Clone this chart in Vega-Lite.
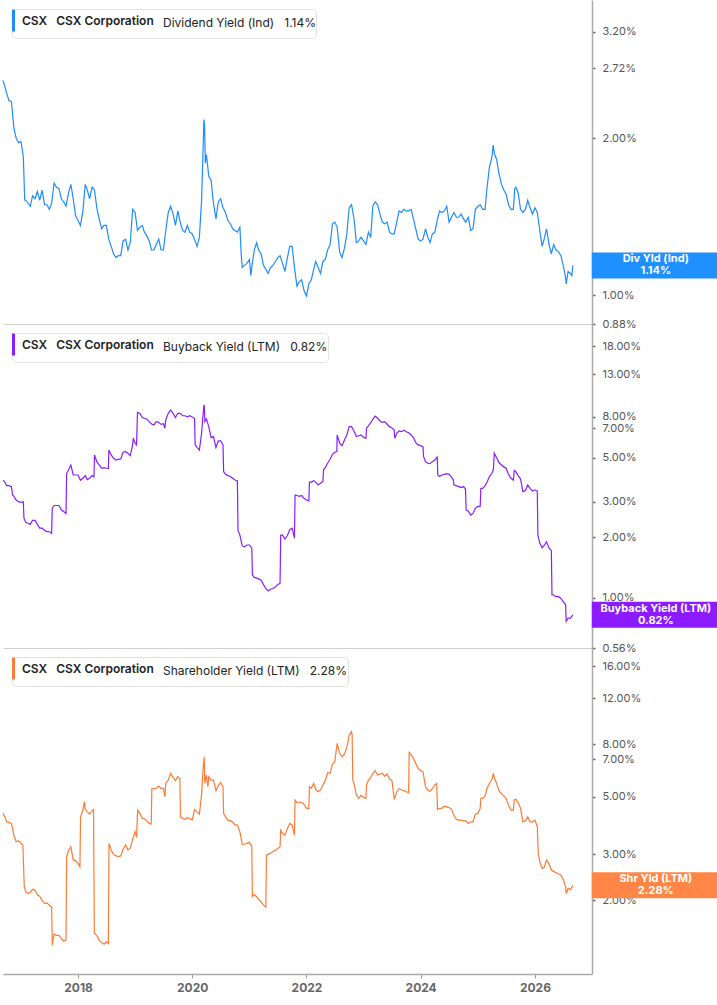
{
  "$schema": "https://vega.github.io/schema/vega-lite/v6.json",
  "padding": 0,
  "autosize": {"type": "pad"},
  "background": "white",
  "config": {
    "font": "Inter",
    "view": {"stroke": null},
    "axis": {"labelFont": "Inter", "grid": false},
    "legend": {
      "orient": "top-left",
      "offset": 9,
      "padding": 0,
      "fillColor": "white",
      "strokeColor": "#e2e2e2",
      "cornerRadius": 4,
      "labelFont": "Inter",
      "labelFontSize": 12,
      "labelFontWeight": 600,
      "labelColor": "#222",
      "labelLimit": 400,
      "titleOrient": "right",
      "titleFont": "Inter",
      "titleFontSize": 12,
      "titleFontWeight": 400,
      "titleColor": "#222",
      "titlePadding": 9,
      "titleLimit": 400,
      "titleBaseline": "middle",
      "titleAnchor": "middle"
    }
  },
  "datasets": {
    "div": [
      {"d":"2016-09-08","v":2.58},{"d":"2016-09-20","v":2.51},{"d":"2016-10-01","v":2.44},{"d":"2016-10-16","v":2.36},
      {"d":"2016-11-01","v":2.35},{"d":"2016-11-16","v":2.10},{"d":"2016-12-01","v":2.00},{"d":"2016-12-16","v":1.96},
      {"d":"2017-01-01","v":1.97},{"d":"2017-01-16","v":1.84},{"d":"2017-01-25","v":1.52},{"d":"2017-02-01","v":1.52},
      {"d":"2017-02-16","v":1.50},{"d":"2017-03-01","v":1.48},{"d":"2017-03-16","v":1.55},{"d":"2017-04-01","v":1.53},
      {"d":"2017-04-16","v":1.58},{"d":"2017-05-01","v":1.52},{"d":"2017-05-16","v":1.59},{"d":"2017-06-01","v":1.49},
      {"d":"2017-06-16","v":1.49},{"d":"2017-07-01","v":1.46},{"d":"2017-07-16","v":1.50},{"d":"2017-08-01","v":1.64},
      {"d":"2017-08-16","v":1.61},{"d":"2017-09-01","v":1.60},{"d":"2017-09-16","v":1.53},{"d":"2017-10-01","v":1.51},
      {"d":"2017-10-16","v":1.48},{"d":"2017-11-01","v":1.57},{"d":"2017-11-16","v":1.63},{"d":"2017-12-01","v":1.53},
      {"d":"2017-12-16","v":1.42},{"d":"2018-01-01","v":1.39},{"d":"2018-01-16","v":1.36},{"d":"2018-02-01","v":1.45},
      {"d":"2018-02-16","v":1.63},{"d":"2018-03-01","v":1.59},{"d":"2018-03-16","v":1.53},{"d":"2018-04-01","v":1.61},
      {"d":"2018-04-16","v":1.59},{"d":"2018-05-01","v":1.47},{"d":"2018-05-16","v":1.40},{"d":"2018-06-01","v":1.34},
      {"d":"2018-06-16","v":1.36},{"d":"2018-07-01","v":1.36},{"d":"2018-07-16","v":1.28},{"d":"2018-08-01","v":1.24},
      {"d":"2018-08-16","v":1.20},{"d":"2018-09-01","v":1.18},{"d":"2018-09-16","v":1.19},{"d":"2018-10-01","v":1.19},
      {"d":"2018-10-16","v":1.27},{"d":"2018-11-01","v":1.28},{"d":"2018-11-16","v":1.22},{"d":"2018-12-01","v":1.26},
      {"d":"2018-12-16","v":1.46},{"d":"2019-01-01","v":1.44},{"d":"2019-01-16","v":1.33},{"d":"2019-02-01","v":1.35},
      {"d":"2019-02-16","v":1.36},{"d":"2019-03-01","v":1.32},{"d":"2019-03-16","v":1.30},{"d":"2019-04-01","v":1.27},
      {"d":"2019-04-16","v":1.22},{"d":"2019-05-01","v":1.22},{"d":"2019-05-16","v":1.25},{"d":"2019-06-01","v":1.28},
      {"d":"2019-06-16","v":1.22},{"d":"2019-07-01","v":1.22},{"d":"2019-07-16","v":1.33},{"d":"2019-08-01","v":1.44},
      {"d":"2019-08-16","v":1.48},{"d":"2019-09-01","v":1.43},{"d":"2019-09-16","v":1.36},{"d":"2019-10-01","v":1.45},
      {"d":"2019-10-16","v":1.38},{"d":"2019-11-01","v":1.33},{"d":"2019-11-16","v":1.32},{"d":"2019-12-01","v":1.36},
      {"d":"2019-12-16","v":1.32},{"d":"2020-01-01","v":1.31},{"d":"2020-01-16","v":1.28},{"d":"2020-02-01","v":1.24},
      {"d":"2020-02-16","v":1.29},{"d":"2020-03-01","v":1.52},{"d":"2020-03-10","v":1.87},{"d":"2020-03-16","v":2.17},
      {"d":"2020-03-20","v":2.13},{"d":"2020-03-25","v":1.79},{"d":"2020-04-01","v":1.86},{"d":"2020-04-16","v":1.69},
      {"d":"2020-05-01","v":1.66},{"d":"2020-05-16","v":1.50},{"d":"2020-06-01","v":1.40},{"d":"2020-06-16","v":1.51},
      {"d":"2020-07-01","v":1.53},{"d":"2020-07-16","v":1.47},{"d":"2020-08-01","v":1.44},{"d":"2020-08-16","v":1.39},
      {"d":"2020-09-01","v":1.37},{"d":"2020-09-16","v":1.34},{"d":"2020-10-01","v":1.33},{"d":"2020-10-16","v":1.32},
      {"d":"2020-11-01","v":1.35},{"d":"2020-11-10","v":1.19},{"d":"2020-11-16","v":1.13},{"d":"2020-12-01","v":1.14},
      {"d":"2020-12-16","v":1.15},{"d":"2021-01-01","v":1.17},{"d":"2021-01-10","v":1.09},{"d":"2021-01-16","v":1.13},
      {"d":"2021-02-01","v":1.22},{"d":"2021-02-16","v":1.26},{"d":"2021-03-01","v":1.22},{"d":"2021-03-16","v":1.20},
      {"d":"2021-04-01","v":1.14},{"d":"2021-04-16","v":1.12},{"d":"2021-05-01","v":1.10},{"d":"2021-05-16","v":1.13},
      {"d":"2021-06-01","v":1.14},{"d":"2021-06-16","v":1.16},{"d":"2021-07-01","v":1.18},{"d":"2021-07-16","v":1.19},
      {"d":"2021-08-01","v":1.15},{"d":"2021-08-16","v":1.11},{"d":"2021-09-01","v":1.18},{"d":"2021-09-16","v":1.24},
      {"d":"2021-10-01","v":1.24},{"d":"2021-10-16","v":1.13},{"d":"2021-11-01","v":1.04},{"d":"2021-11-16","v":1.06},
      {"d":"2021-12-01","v":1.07},{"d":"2021-12-16","v":1.02},{"d":"2022-01-01","v":0.996},{"d":"2022-01-16","v":1.05},
      {"d":"2022-02-01","v":1.07},{"d":"2022-02-16","v":1.12},{"d":"2022-03-01","v":1.16},{"d":"2022-03-16","v":1.13},
      {"d":"2022-04-01","v":1.10},{"d":"2022-04-16","v":1.16},{"d":"2022-05-01","v":1.17},{"d":"2022-05-16","v":1.22},
      {"d":"2022-06-01","v":1.25},{"d":"2022-06-16","v":1.37},{"d":"2022-07-01","v":1.38},{"d":"2022-07-16","v":1.35},
      {"d":"2022-08-01","v":1.21},{"d":"2022-08-16","v":1.18},{"d":"2022-09-01","v":1.23},{"d":"2022-09-16","v":1.31},
      {"d":"2022-10-01","v":1.47},{"d":"2022-10-16","v":1.49},{"d":"2022-11-01","v":1.40},{"d":"2022-11-16","v":1.26},
      {"d":"2022-12-01","v":1.27},{"d":"2022-12-16","v":1.29},{"d":"2023-01-01","v":1.27},{"d":"2023-01-16","v":1.25},
      {"d":"2023-02-01","v":1.32},{"d":"2023-02-16","v":1.29},{"d":"2023-03-01","v":1.48},{"d":"2023-03-16","v":1.51},
      {"d":"2023-04-01","v":1.49},{"d":"2023-04-16","v":1.43},{"d":"2023-05-01","v":1.38},{"d":"2023-05-16","v":1.37},
      {"d":"2023-06-01","v":1.38},{"d":"2023-06-16","v":1.32},{"d":"2023-07-01","v":1.31},{"d":"2023-07-16","v":1.31},
      {"d":"2023-08-01","v":1.38},{"d":"2023-08-16","v":1.45},{"d":"2023-09-01","v":1.44},{"d":"2023-09-16","v":1.46},
      {"d":"2023-10-01","v":1.45},{"d":"2023-10-16","v":1.45},{"d":"2023-11-01","v":1.46},{"d":"2023-11-16","v":1.40},
      {"d":"2023-12-01","v":1.34},{"d":"2023-12-16","v":1.28},{"d":"2024-01-01","v":1.27},{"d":"2024-01-16","v":1.28},
      {"d":"2024-02-01","v":1.34},{"d":"2024-02-16","v":1.29},{"d":"2024-03-01","v":1.26},{"d":"2024-03-16","v":1.31},
      {"d":"2024-04-01","v":1.32},{"d":"2024-04-16","v":1.39},{"d":"2024-05-01","v":1.45},{"d":"2024-05-16","v":1.44},
      {"d":"2024-06-01","v":1.45},{"d":"2024-06-16","v":1.48},{"d":"2024-07-01","v":1.38},{"d":"2024-07-16","v":1.41},
      {"d":"2024-08-01","v":1.44},{"d":"2024-08-16","v":1.41},{"d":"2024-09-01","v":1.41},{"d":"2024-09-16","v":1.43},
      {"d":"2024-10-01","v":1.40},{"d":"2024-10-16","v":1.38},{"d":"2024-11-01","v":1.41},{"d":"2024-11-16","v":1.33},
      {"d":"2024-12-01","v":1.34},{"d":"2024-12-16","v":1.46},{"d":"2025-01-01","v":1.48},{"d":"2025-01-16","v":1.49},
      {"d":"2025-02-01","v":1.46},{"d":"2025-02-16","v":1.46},{"d":"2025-03-01","v":1.61},{"d":"2025-03-16","v":1.76},
      {"d":"2025-04-01","v":1.84},{"d":"2025-04-09","v":1.94},{"d":"2025-04-16","v":1.87},{"d":"2025-05-01","v":1.82},
      {"d":"2025-05-16","v":1.71},{"d":"2025-06-01","v":1.63},{"d":"2025-06-16","v":1.59},{"d":"2025-07-01","v":1.56},
      {"d":"2025-07-16","v":1.49},{"d":"2025-08-01","v":1.46},{"d":"2025-08-16","v":1.46},{"d":"2025-08-25","v":1.60},
      {"d":"2025-09-01","v":1.61},{"d":"2025-09-16","v":1.57},{"d":"2025-10-01","v":1.46},{"d":"2025-10-16","v":1.44},
      {"d":"2025-11-01","v":1.46},{"d":"2025-11-16","v":1.52},{"d":"2025-12-01","v":1.47},{"d":"2025-12-16","v":1.43},
      {"d":"2026-01-01","v":1.47},{"d":"2026-01-16","v":1.44},{"d":"2026-02-01","v":1.33},{"d":"2026-02-16","v":1.24},
      {"d":"2026-03-01","v":1.28},{"d":"2026-03-16","v":1.34},{"d":"2026-04-01","v":1.25},{"d":"2026-04-16","v":1.20},
      {"d":"2026-05-01","v":1.25},{"d":"2026-05-16","v":1.22},{"d":"2026-06-01","v":1.21},{"d":"2026-06-16","v":1.19},
      {"d":"2026-07-01","v":1.14},{"d":"2026-07-16","v":1.08},{"d":"2026-07-20","v":1.05},{"d":"2026-08-01","v":1.11},
      {"d":"2026-08-16","v":1.10},{"d":"2026-08-25","v":1.09},{"d":"2026-09-01","v":1.14}
    ],
    "buy": [
      {"d":"2016-09-08","v":3.86},{"d":"2016-09-20","v":3.77},{"d":"2016-10-01","v":3.62},{"d":"2016-10-16","v":3.62},
      {"d":"2016-11-01","v":3.58},{"d":"2016-11-08","v":3.25},{"d":"2016-11-16","v":3.21},{"d":"2016-12-01","v":3.07},
      {"d":"2016-12-16","v":3.01},{"d":"2017-01-01","v":2.99},{"d":"2017-01-16","v":3.01},{"d":"2017-01-20","v":2.49},
      {"d":"2017-02-01","v":2.37},{"d":"2017-02-16","v":2.35},{"d":"2017-03-01","v":2.32},{"d":"2017-03-16","v":2.43},
      {"d":"2017-04-01","v":2.43},{"d":"2017-04-16","v":2.32},{"d":"2017-05-01","v":2.22},{"d":"2017-05-16","v":2.22},
      {"d":"2017-06-01","v":2.16},{"d":"2017-06-16","v":2.14},{"d":"2017-07-01","v":2.13},{"d":"2017-07-16","v":2.09},
      {"d":"2017-07-20","v":2.79},{"d":"2017-08-01","v":2.88},{"d":"2017-08-16","v":2.88},{"d":"2017-09-01","v":2.88},
      {"d":"2017-09-16","v":2.74},{"d":"2017-10-01","v":2.69},{"d":"2017-10-16","v":2.63},{"d":"2017-10-20","v":4.17},
      {"d":"2017-11-01","v":4.33},{"d":"2017-11-16","v":4.59},{"d":"2017-12-01","v":4.09},{"d":"2017-12-16","v":4.09},
      {"d":"2018-01-01","v":4.09},{"d":"2018-01-16","v":3.85},{"d":"2018-02-01","v":3.94},{"d":"2018-02-16","v":4.06},
      {"d":"2018-03-01","v":3.88},{"d":"2018-03-16","v":3.94},{"d":"2018-04-01","v":4.06},{"d":"2018-04-13","v":4.00},
      {"d":"2018-04-16","v":5.15},{"d":"2018-05-01","v":4.77},{"d":"2018-05-16","v":4.59},{"d":"2018-06-01","v":4.42},
      {"d":"2018-06-16","v":4.45},{"d":"2018-07-01","v":4.42},{"d":"2018-07-14","v":4.40},{"d":"2018-07-17","v":5.45},
      {"d":"2018-08-01","v":5.15},{"d":"2018-08-16","v":4.96},{"d":"2018-09-01","v":4.86},{"d":"2018-09-16","v":4.90},
      {"d":"2018-10-01","v":4.92},{"d":"2018-10-16","v":5.31},{"d":"2018-11-01","v":5.35},{"d":"2018-11-16","v":5.25},
      {"d":"2018-12-01","v":5.11},{"d":"2018-12-16","v":5.78},{"d":"2018-12-20","v":6.24},{"d":"2019-01-01","v":5.89},
      {"d":"2019-01-10","v":5.78},{"d":"2019-01-16","v":8.40},{"d":"2019-02-01","v":8.30},{"d":"2019-02-16","v":7.91},
      {"d":"2019-03-01","v":7.85},{"d":"2019-03-16","v":7.79},{"d":"2019-04-01","v":7.55},{"d":"2019-04-16","v":7.35},
      {"d":"2019-05-01","v":7.27},{"d":"2019-05-16","v":7.55},{"d":"2019-06-01","v":7.49},{"d":"2019-06-16","v":7.32},
      {"d":"2019-07-01","v":7.38},{"d":"2019-07-10","v":7.00},{"d":"2019-07-16","v":7.70},{"d":"2019-08-01","v":8.31},
      {"d":"2019-08-16","v":8.64},{"d":"2019-09-01","v":8.30},{"d":"2019-09-16","v":7.91},{"d":"2019-10-01","v":8.31},
      {"d":"2019-10-16","v":8.30},{"d":"2019-11-01","v":8.08},{"d":"2019-11-16","v":8.08},{"d":"2019-12-01","v":7.99},
      {"d":"2019-12-16","v":8.08},{"d":"2020-01-01","v":7.97},{"d":"2020-01-16","v":7.85},{"d":"2020-01-20","v":5.78},
      {"d":"2020-02-01","v":5.62},{"d":"2020-02-16","v":5.45},{"d":"2020-03-01","v":6.61},{"d":"2020-03-10","v":8.15},
      {"d":"2020-03-16","v":9.08},{"d":"2020-03-18","v":9.15},{"d":"2020-03-22","v":7.55},{"d":"2020-04-01","v":7.79},
      {"d":"2020-04-16","v":7.13},{"d":"2020-05-01","v":6.29},{"d":"2020-05-16","v":6.36},{"d":"2020-06-01","v":5.60},
      {"d":"2020-06-16","v":6.05},{"d":"2020-07-01","v":6.05},{"d":"2020-07-16","v":5.78},{"d":"2020-07-20","v":4.25},
      {"d":"2020-08-01","v":4.12},{"d":"2020-08-16","v":4.06},{"d":"2020-09-01","v":4.02},{"d":"2020-09-16","v":3.94},
      {"d":"2020-10-01","v":3.86},{"d":"2020-10-16","v":3.82},{"d":"2020-10-20","v":2.17},{"d":"2020-11-01","v":2.05},
      {"d":"2020-11-16","v":1.81},{"d":"2020-12-01","v":1.79},{"d":"2020-12-16","v":1.83},{"d":"2021-01-01","v":1.83},
      {"d":"2021-01-16","v":1.77},{"d":"2021-01-20","v":1.30},{"d":"2021-02-01","v":1.26},{"d":"2021-02-16","v":1.25},
      {"d":"2021-03-01","v":1.24},{"d":"2021-03-16","v":1.22},{"d":"2021-04-01","v":1.16},{"d":"2021-04-16","v":1.11},
      {"d":"2021-05-01","v":1.08},{"d":"2021-05-16","v":1.10},{"d":"2021-06-01","v":1.11},{"d":"2021-06-16","v":1.13},
      {"d":"2021-07-01","v":1.16},{"d":"2021-07-16","v":1.18},{"d":"2021-07-20","v":2.05},{"d":"2021-08-01","v":2.05},
      {"d":"2021-08-16","v":1.96},{"d":"2021-09-01","v":2.04},{"d":"2021-09-16","v":2.18},{"d":"2021-10-01","v":2.22},
      {"d":"2021-10-16","v":1.98},{"d":"2021-10-20","v":3.25},{"d":"2021-11-01","v":3.23},{"d":"2021-11-16","v":3.20},
      {"d":"2021-12-01","v":3.23},{"d":"2021-12-16","v":3.13},{"d":"2022-01-01","v":3.07},{"d":"2022-01-16","v":3.04},
      {"d":"2022-01-20","v":3.77},{"d":"2022-02-01","v":3.77},{"d":"2022-02-16","v":3.83},{"d":"2022-03-01","v":3.77},
      {"d":"2022-03-16","v":3.65},{"d":"2022-04-01","v":3.72},{"d":"2022-04-16","v":3.80},{"d":"2022-04-20","v":4.34},
      {"d":"2022-05-01","v":4.45},{"d":"2022-05-16","v":4.68},{"d":"2022-06-01","v":4.90},{"d":"2022-06-16","v":5.19},
      {"d":"2022-07-01","v":5.31},{"d":"2022-07-14","v":5.35},{"d":"2022-07-16","v":6.48},{"d":"2022-08-01","v":5.89},
      {"d":"2022-08-16","v":5.73},{"d":"2022-09-01","v":6.12},{"d":"2022-09-16","v":6.48},{"d":"2022-10-01","v":7.13},
      {"d":"2022-10-16","v":7.13},{"d":"2022-11-01","v":6.78},{"d":"2022-11-16","v":6.36},{"d":"2022-12-01","v":6.42},
      {"d":"2022-12-16","v":6.48},{"d":"2023-01-01","v":6.31},{"d":"2023-01-16","v":6.24},{"d":"2023-01-20","v":7.00},
      {"d":"2023-02-01","v":7.20},{"d":"2023-02-16","v":7.46},{"d":"2023-03-01","v":7.76},{"d":"2023-03-16","v":8.05},
      {"d":"2023-04-01","v":7.85},{"d":"2023-04-16","v":7.61},{"d":"2023-05-01","v":7.49},{"d":"2023-05-16","v":7.55},
      {"d":"2023-06-01","v":7.33},{"d":"2023-06-16","v":7.13},{"d":"2023-07-01","v":7.03},{"d":"2023-07-16","v":6.86},
      {"d":"2023-07-20","v":6.24},{"d":"2023-08-01","v":6.61},{"d":"2023-08-16","v":6.78},{"d":"2023-09-01","v":6.73},
      {"d":"2023-09-16","v":6.84},{"d":"2023-10-01","v":6.73},{"d":"2023-10-16","v":6.65},{"d":"2023-11-01","v":6.48},
      {"d":"2023-11-16","v":6.29},{"d":"2023-12-01","v":5.93},{"d":"2023-12-16","v":5.78},{"d":"2024-01-01","v":5.73},
      {"d":"2024-01-16","v":5.66},{"d":"2024-01-20","v":5.05},{"d":"2024-02-01","v":4.77},{"d":"2024-02-16","v":4.68},
      {"d":"2024-03-01","v":4.66},{"d":"2024-03-16","v":4.77},{"d":"2024-04-01","v":4.86},{"d":"2024-04-16","v":5.03},
      {"d":"2024-04-20","v":4.09},{"d":"2024-05-01","v":4.02},{"d":"2024-05-16","v":4.09},{"d":"2024-06-01","v":4.12},
      {"d":"2024-06-16","v":4.15},{"d":"2024-07-01","v":4.12},{"d":"2024-07-16","v":4.00},{"d":"2024-07-28","v":3.86},
      {"d":"2024-08-01","v":3.65},{"d":"2024-08-16","v":3.62},{"d":"2024-09-01","v":3.58},{"d":"2024-09-16","v":3.54},
      {"d":"2024-10-01","v":3.58},{"d":"2024-10-14","v":3.48},{"d":"2024-10-18","v":2.73},{"d":"2024-11-01","v":2.70},
      {"d":"2024-11-16","v":2.58},{"d":"2024-12-01","v":2.63},{"d":"2024-12-16","v":2.79},{"d":"2025-01-01","v":2.85},
      {"d":"2025-01-16","v":2.85},{"d":"2025-01-20","v":3.51},{"d":"2025-02-01","v":3.51},{"d":"2025-02-16","v":3.62},
      {"d":"2025-03-01","v":3.77},{"d":"2025-03-16","v":4.02},{"d":"2025-04-01","v":4.17},{"d":"2025-04-10","v":4.34},
      {"d":"2025-04-16","v":5.25},{"d":"2025-05-01","v":4.99},{"d":"2025-05-16","v":4.72},{"d":"2025-06-01","v":4.59},
      {"d":"2025-06-16","v":4.49},{"d":"2025-07-01","v":4.42},{"d":"2025-07-16","v":4.12},{"d":"2025-08-01","v":3.94},
      {"d":"2025-08-16","v":3.86},{"d":"2025-08-22","v":4.30},{"d":"2025-09-01","v":4.25},{"d":"2025-09-16","v":4.06},
      {"d":"2025-10-01","v":3.91},{"d":"2025-10-16","v":3.38},{"d":"2025-11-01","v":3.42},{"d":"2025-11-16","v":3.65},
      {"d":"2025-12-01","v":3.51},{"d":"2025-12-16","v":3.40},{"d":"2026-01-01","v":3.45},{"d":"2026-01-16","v":3.40},
      {"d":"2026-01-20","v":2.05},{"d":"2026-02-01","v":1.87},{"d":"2026-02-16","v":1.77},{"d":"2026-03-01","v":1.82},
      {"d":"2026-03-16","v":1.90},{"d":"2026-04-01","v":1.77},{"d":"2026-04-16","v":1.72},{"d":"2026-04-20","v":1.03},
      {"d":"2026-05-01","v":1.03},{"d":"2026-05-16","v":1.01},{"d":"2026-06-01","v":1.01},{"d":"2026-06-16","v":0.99},
      {"d":"2026-07-01","v":0.955},{"d":"2026-07-16","v":0.92},{"d":"2026-07-20","v":0.76},{"d":"2026-08-01","v":0.79},
      {"d":"2026-08-16","v":0.79},{"d":"2026-09-01","v":0.82}
    ],
    "shr": [
      {"d":"2016-09-08","v":4.32},{"d":"2016-09-20","v":4.19},{"d":"2016-10-01","v":4.01},{"d":"2016-10-16","v":3.98},
      {"d":"2016-11-01","v":3.95},{"d":"2016-11-16","v":3.57},{"d":"2016-12-01","v":3.36},{"d":"2016-12-16","v":3.38},
      {"d":"2017-01-01","v":3.31},{"d":"2017-01-13","v":3.26},{"d":"2017-01-22","v":2.25},{"d":"2017-02-01","v":2.15},
      {"d":"2017-02-16","v":2.12},{"d":"2017-03-01","v":2.14},{"d":"2017-03-16","v":2.20},{"d":"2017-04-01","v":2.18},
      {"d":"2017-04-16","v":2.09},{"d":"2017-05-01","v":2.07},{"d":"2017-05-16","v":1.99},{"d":"2017-06-01","v":1.94},
      {"d":"2017-06-16","v":1.95},{"d":"2017-07-01","v":1.91},{"d":"2017-07-16","v":1.88},{"d":"2017-07-20","v":1.34},
      {"d":"2017-08-01","v":1.48},{"d":"2017-08-16","v":1.46},{"d":"2017-09-01","v":1.46},{"d":"2017-09-16","v":1.42},
      {"d":"2017-10-01","v":1.39},{"d":"2017-10-16","v":1.40},{"d":"2017-10-20","v":2.94},{"d":"2017-11-01","v":3.10},
      {"d":"2017-11-16","v":3.21},{"d":"2017-12-01","v":2.85},{"d":"2017-12-16","v":2.84},{"d":"2018-01-01","v":2.77},
      {"d":"2018-01-13","v":2.69},{"d":"2018-01-17","v":4.19},{"d":"2018-02-01","v":4.45},{"d":"2018-02-10","v":4.80},
      {"d":"2018-02-16","v":4.47},{"d":"2018-03-01","v":4.38},{"d":"2018-03-16","v":4.29},{"d":"2018-04-01","v":4.42},
      {"d":"2018-04-10","v":4.47},{"d":"2018-04-15","v":1.49},{"d":"2018-05-01","v":1.46},{"d":"2018-05-16","v":1.40},
      {"d":"2018-06-01","v":1.37},{"d":"2018-06-16","v":1.35},{"d":"2018-07-01","v":1.38},{"d":"2018-07-14","v":1.36},
      {"d":"2018-07-18","v":3.31},{"d":"2018-08-01","v":3.12},{"d":"2018-08-16","v":3.00},{"d":"2018-09-01","v":2.96},
      {"d":"2018-09-16","v":2.94},{"d":"2018-10-01","v":2.96},{"d":"2018-10-16","v":3.14},{"d":"2018-11-01","v":3.26},
      {"d":"2018-11-16","v":3.12},{"d":"2018-12-01","v":3.17},{"d":"2018-12-16","v":3.43},{"d":"2019-01-01","v":3.67},
      {"d":"2019-01-10","v":3.49},{"d":"2019-01-17","v":4.45},{"d":"2019-02-01","v":4.31},{"d":"2019-02-16","v":4.13},
      {"d":"2019-03-01","v":4.12},{"d":"2019-03-16","v":4.05},{"d":"2019-04-01","v":3.95},{"d":"2019-04-14","v":3.93},
      {"d":"2019-04-18","v":5.40},{"d":"2019-05-01","v":5.39},{"d":"2019-05-16","v":5.41},{"d":"2019-06-01","v":5.51},
      {"d":"2019-06-16","v":5.40},{"d":"2019-07-01","v":5.40},{"d":"2019-07-10","v":5.01},{"d":"2019-07-16","v":5.64},
      {"d":"2019-08-01","v":5.81},{"d":"2019-08-16","v":6.17},{"d":"2019-09-01","v":5.95},{"d":"2019-09-16","v":5.78},
      {"d":"2019-10-01","v":5.99},{"d":"2019-10-14","v":5.90},{"d":"2019-10-18","v":4.19},{"d":"2019-11-01","v":4.13},
      {"d":"2019-11-16","v":4.09},{"d":"2019-12-01","v":4.17},{"d":"2019-12-16","v":4.13},{"d":"2020-01-01","v":4.07},
      {"d":"2020-01-16","v":4.47},{"d":"2020-02-01","v":4.38},{"d":"2020-02-16","v":4.29},{"d":"2020-03-01","v":5.09},
      {"d":"2020-03-10","v":6.35},{"d":"2020-03-18","v":7.15},{"d":"2020-03-22","v":5.64},{"d":"2020-04-01","v":6.08},
      {"d":"2020-04-10","v":5.48},{"d":"2020-04-16","v":5.99},{"d":"2020-05-01","v":5.81},{"d":"2020-05-16","v":5.81},
      {"d":"2020-06-01","v":5.29},{"d":"2020-06-16","v":5.53},{"d":"2020-07-01","v":5.67},{"d":"2020-07-16","v":5.48},
      {"d":"2020-07-20","v":4.32},{"d":"2020-08-01","v":4.19},{"d":"2020-08-16","v":4.07},{"d":"2020-09-01","v":4.05},
      {"d":"2020-09-16","v":4.00},{"d":"2020-10-01","v":3.89},{"d":"2020-10-16","v":3.90},{"d":"2020-11-01","v":3.67},
      {"d":"2020-11-16","v":3.28},{"d":"2020-12-01","v":3.29},{"d":"2020-12-16","v":3.31},{"d":"2021-01-01","v":3.34},
      {"d":"2021-01-16","v":3.23},{"d":"2021-01-20","v":2.06},{"d":"2021-02-01","v":2.10},{"d":"2021-02-16","v":2.06},
      {"d":"2021-03-01","v":2.01},{"d":"2021-03-16","v":1.97},{"d":"2021-04-01","v":1.91},{"d":"2021-04-16","v":1.88},
      {"d":"2021-04-20","v":2.98},{"d":"2021-05-01","v":3.00},{"d":"2021-05-16","v":3.03},{"d":"2021-06-01","v":3.08},
      {"d":"2021-06-16","v":3.11},{"d":"2021-07-01","v":3.16},{"d":"2021-07-16","v":3.21},{"d":"2021-07-20","v":3.72},
      {"d":"2021-08-01","v":3.62},{"d":"2021-08-16","v":3.56},{"d":"2021-09-01","v":3.78},{"d":"2021-09-16","v":3.95},
      {"d":"2021-10-01","v":3.89},{"d":"2021-10-16","v":3.56},{"d":"2021-10-20","v":4.87},{"d":"2021-11-01","v":4.76},
      {"d":"2021-11-16","v":4.78},{"d":"2021-12-01","v":4.77},{"d":"2021-12-16","v":4.68},{"d":"2022-01-01","v":4.52},
      {"d":"2022-01-16","v":4.52},{"d":"2022-01-20","v":5.48},{"d":"2022-02-01","v":5.40},{"d":"2022-02-16","v":5.64},
      {"d":"2022-03-01","v":5.35},{"d":"2022-03-16","v":5.24},{"d":"2022-04-01","v":5.32},{"d":"2022-04-16","v":5.56},
      {"d":"2022-05-01","v":5.78},{"d":"2022-05-16","v":6.20},{"d":"2022-06-01","v":6.17},{"d":"2022-06-16","v":6.68},
      {"d":"2022-07-01","v":6.84},{"d":"2022-07-16","v":8.05},{"d":"2022-08-01","v":7.37},{"d":"2022-08-16","v":7.15},
      {"d":"2022-09-01","v":7.32},{"d":"2022-09-16","v":7.77},{"d":"2022-10-01","v":8.67},{"d":"2022-10-16","v":8.94},
      {"d":"2022-10-20","v":8.67},{"d":"2022-10-24","v":5.81},{"d":"2022-11-01","v":5.64},{"d":"2022-11-16","v":5.09},
      {"d":"2022-12-01","v":4.94},{"d":"2022-12-16","v":5.07},{"d":"2023-01-01","v":4.98},{"d":"2023-01-16","v":4.94},
      {"d":"2023-01-20","v":5.56},{"d":"2023-02-01","v":5.81},{"d":"2023-02-16","v":5.95},{"d":"2023-03-01","v":6.17},
      {"d":"2023-03-16","v":6.31},{"d":"2023-04-01","v":6.08},{"d":"2023-04-16","v":6.13},{"d":"2023-05-01","v":6.17},
      {"d":"2023-05-16","v":6.02},{"d":"2023-06-01","v":6.13},{"d":"2023-06-16","v":5.85},{"d":"2023-07-01","v":5.81},
      {"d":"2023-07-16","v":4.90},{"d":"2023-08-01","v":5.24},{"d":"2023-08-16","v":5.38},{"d":"2023-09-01","v":5.32},
      {"d":"2023-09-16","v":5.29},{"d":"2023-10-01","v":5.24},{"d":"2023-10-16","v":5.19},{"d":"2023-10-20","v":7.43},
      {"d":"2023-11-01","v":7.28},{"d":"2023-11-16","v":7.04},{"d":"2023-12-01","v":6.74},{"d":"2023-12-16","v":6.45},
      {"d":"2024-01-01","v":6.31},{"d":"2024-01-16","v":6.26},{"d":"2024-02-01","v":5.48},{"d":"2024-02-16","v":5.32},
      {"d":"2024-03-01","v":5.25},{"d":"2024-03-16","v":5.38},{"d":"2024-04-01","v":5.56},{"d":"2024-04-13","v":5.64},
      {"d":"2024-04-18","v":4.47},{"d":"2024-05-01","v":4.52},{"d":"2024-05-16","v":4.52},{"d":"2024-06-01","v":4.61},
      {"d":"2024-06-16","v":4.58},{"d":"2024-07-01","v":4.54},{"d":"2024-07-16","v":4.49},{"d":"2024-08-01","v":4.25},
      {"d":"2024-08-16","v":4.10},{"d":"2024-09-01","v":4.07},{"d":"2024-09-16","v":4.07},{"d":"2024-10-01","v":4.04},
      {"d":"2024-10-16","v":4.04},{"d":"2024-11-01","v":3.95},{"d":"2024-11-16","v":4.01},{"d":"2024-12-01","v":4.01},
      {"d":"2024-12-16","v":4.29},{"d":"2025-01-01","v":4.32},{"d":"2025-01-16","v":4.52},{"d":"2025-01-20","v":4.94},
      {"d":"2025-02-01","v":4.94},{"d":"2025-02-16","v":5.04},{"d":"2025-03-01","v":5.40},{"d":"2025-03-16","v":5.64},
      {"d":"2025-04-01","v":5.85},{"d":"2025-04-10","v":6.17},{"d":"2025-04-16","v":5.92},{"d":"2025-05-01","v":5.64},
      {"d":"2025-05-16","v":5.29},{"d":"2025-06-01","v":5.14},{"d":"2025-06-16","v":5.04},{"d":"2025-07-01","v":4.94},
      {"d":"2025-07-16","v":4.65},{"d":"2025-08-01","v":4.45},{"d":"2025-08-16","v":4.45},{"d":"2025-08-22","v":4.87},
      {"d":"2025-09-01","v":4.90},{"d":"2025-09-16","v":4.75},{"d":"2025-10-01","v":4.52},{"d":"2025-10-16","v":4.01},
      {"d":"2025-11-01","v":4.04},{"d":"2025-11-16","v":4.19},{"d":"2025-12-01","v":4.01},{"d":"2025-12-16","v":4.01},
      {"d":"2026-01-01","v":4.07},{"d":"2026-01-16","v":3.84},{"d":"2026-01-22","v":3.03},{"d":"2026-02-01","v":2.81},
      {"d":"2026-02-16","v":2.65},{"d":"2026-03-01","v":2.67},{"d":"2026-03-16","v":2.85},{"d":"2026-04-01","v":2.76},
      {"d":"2026-04-16","v":2.61},{"d":"2026-05-01","v":2.58},{"d":"2026-05-16","v":2.55},{"d":"2026-06-01","v":2.52},
      {"d":"2026-06-16","v":2.50},{"d":"2026-07-01","v":2.40},{"d":"2026-07-16","v":2.25},{"d":"2026-07-20","v":2.12},
      {"d":"2026-08-01","v":2.22},{"d":"2026-08-16","v":2.19},{"d":"2026-09-01","v":2.28}
    ]
  },
  "vconcat": [
    {
      "width": 589,
      "height": 324,
      "data": {"name": "div"},
      "encoding": {
        "x": {"field": "d", "type": "temporal",
          "scale": {"domain": [{"year": 2016, "month": 9, "date": 8}, {"year": 2027, "month": 1, "date": 1}]},
          "axis": {"title": null, "labels": false, "ticks": false, "domainColor": "#cfcfcf", "domainWidth": 1}},
        "y": {"field": "v", "type": "quantitative",
          "scale": {"type": "log", "domain": [0.88, 3.68], "nice": false},
          "axis": {"orient": "right", "title": null, "values": [0.88, 1, 2, 2.72, 3.2],
            "labelExpr": "format(datum.value, '.2f') + '%'", "labelFontSize": 11, "labelColor": "#555",
            "labelPadding": 7, "tickSize": 3, "tickWidth": 1.5, "tickColor": "#666",
            "domainColor": "#aaa", "domainWidth": 1.5, "labelOverlap": false, "labelFlush": false, "labelBound": false}}
      },
      "layer": [
        {
          "mark": {"type": "line", "strokeWidth": 1.2},
          "encoding": {
            "color": {"datum": "CSX\u00a0\u00a0\u00a0CSX Corporation",
              "scale": {"range": ["#1e8cff"]},
              "legend": {"title": "Dividend Yield (Ind)\u00a0\u00a0\u00a01.14%\u00a0\u00a0",
                "symbolType": "M-1,-1.1V1.1", "symbolSize": 400, "symbolStrokeWidth": 3, "labelOffset": -13}}
          }
        },
        {
          "transform": [
            {"window": [{"op": "row_number", "as": "r"}], "sort": [{"field": "d", "order": "descending"}]},
            {"filter": "datum.r === 1"}
          ],
          "layer": [
            {
              "mark": {"type": "tick", "orient": "horizontal", "size": 128, "thickness": 26, "opacity": 1, "color": "#1e90ff"},
              "encoding": {"x": {"datum": {"year": 2028, "month": 2, "date": 13}, "type": "temporal",
                "scale": {"domain": [{"year": 2016, "month": 9, "date": 8}, {"year": 2027, "month": 1, "date": 1}]}}}
            },
            {
              "mark": {"type": "text", "color": "white", "fontWeight": "bold", "fontSize": 11, "lineHeight": 12, "dy": -6, "baseline": "middle", "align": "center"},
              "encoding": {"x": {"datum": {"year": 2028, "month": 2, "date": 13}, "type": "temporal",
                "scale": {"domain": [{"year": 2016, "month": 9, "date": 8}, {"year": 2027, "month": 1, "date": 1}]}},
                "text": {"value": ["Div Yld (Ind)", "1.14%"]}}
            }
          ]
        }
      ]
    },
    {
      "width": 589,
      "height": 324,
      "data": {"name": "buy"},
      "encoding": {
        "x": {"field": "d", "type": "temporal",
          "scale": {"domain": [{"year": 2016, "month": 9, "date": 8}, {"year": 2027, "month": 1, "date": 1}]},
          "axis": {"title": null, "labels": false, "ticks": false, "domainColor": "#cfcfcf", "domainWidth": 1}},
        "y": {"field": "v", "type": "quantitative",
          "scale": {"type": "log", "domain": [0.56, 23.2], "nice": false},
          "axis": {"orient": "right", "title": null, "values": [0.56, 0.79, 1, 2, 3, 5, 7, 8, 13, 18],
            "labelExpr": "format(datum.value, '.2f') + '%'", "labelFontSize": 11, "labelColor": "#555",
            "labelPadding": 7, "tickSize": 3, "tickWidth": 1.5, "tickColor": "#666",
            "domainColor": "#aaa", "domainWidth": 1.5, "labelOverlap": false, "labelFlush": false, "labelBound": false}}
      },
      "layer": [
        {
          "mark": {"type": "line", "strokeWidth": 1.2},
          "encoding": {
            "color": {"datum": "CSX\u00a0\u00a0\u00a0CSX Corporation",
              "scale": {"range": ["#8a1eff"]},
              "legend": {"title": "Buyback Yield (LTM)\u00a0\u00a0\u00a00.82%\u00a0\u00a0",
                "symbolType": "M-1,-1.1V1.1", "symbolSize": 400, "symbolStrokeWidth": 3, "labelOffset": -13}}
          }
        },
        {
          "transform": [
            {"window": [{"op": "row_number", "as": "r"}], "sort": [{"field": "d", "order": "descending"}]},
            {"filter": "datum.r === 1"}
          ],
          "layer": [
            {
              "mark": {"type": "tick", "orient": "horizontal", "size": 128, "thickness": 26, "opacity": 1, "color": "#8c1cff"},
              "encoding": {"x": {"datum": {"year": 2028, "month": 2, "date": 13}, "type": "temporal",
                "scale": {"domain": [{"year": 2016, "month": 9, "date": 8}, {"year": 2027, "month": 1, "date": 1}]}}}
            },
            {
              "mark": {"type": "text", "color": "white", "fontWeight": "bold", "fontSize": 11, "lineHeight": 12, "dy": -6, "baseline": "middle", "align": "center"},
              "encoding": {"x": {"datum": {"year": 2028, "month": 2, "date": 13}, "type": "temporal",
                "scale": {"domain": [{"year": 2016, "month": 9, "date": 8}, {"year": 2027, "month": 1, "date": 1}]}},
                "text": {"value": ["Buyback Yield (LTM)", "0.82%"]}}
            }
          ]
        }
      ]
    },
    {
      "width": 589,
      "height": 326,
      "data": {"name": "shr"},
      "encoding": {
        "x": {"field": "d", "type": "temporal",
          "scale": {"domain": [{"year": 2016, "month": 9, "date": 8}, {"year": 2027, "month": 1, "date": 1}]},
          "axis": {"title": null, "format": "%Y",
            "values": [{"year": 2018, "month": 1, "date": 1}, {"year": 2020, "month": 1, "date": 1}, {"year": 2022, "month": 1, "date": 1}, {"year": 2024, "month": 1, "date": 1}, {"year": 2026, "month": 1, "date": 1}],
            "labelFontWeight": "bold", "labelFontSize": 12, "labelColor": "#666", "labelPadding": 4, "labelFlush": false,
            "tickSize": 4, "tickColor": "#999", "domainColor": "#aaa", "domainWidth": 1.5}},
        "y": {"field": "v", "type": "quantitative",
          "scale": {"type": "log", "domain": [1.036, 18.8], "nice": false},
          "axis": {"orient": "right", "title": null, "values": [2, 3, 5, 7, 8, 12, 16],
            "labelExpr": "format(datum.value, '.2f') + '%'", "labelFontSize": 11, "labelColor": "#555",
            "labelPadding": 7, "tickSize": 3, "tickWidth": 1.5, "tickColor": "#666",
            "domainColor": "#aaa", "domainWidth": 1.5, "labelOverlap": false, "labelFlush": false, "labelBound": false}}
      },
      "layer": [
        {
          "mark": {"type": "line", "strokeWidth": 1.2},
          "encoding": {
            "color": {"datum": "CSX\u00a0\u00a0\u00a0CSX Corporation",
              "scale": {"range": ["#ff7a35"]},
              "legend": {"title": "Shareholder Yield (LTM)\u00a0\u00a0\u00a02.28%\u00a0\u00a0",
                "symbolType": "M-1,-1.1V1.1", "symbolSize": 400, "symbolStrokeWidth": 3, "labelOffset": -13}}
          }
        },
        {
          "transform": [
            {"window": [{"op": "row_number", "as": "r"}], "sort": [{"field": "d", "order": "descending"}]},
            {"filter": "datum.r === 1"}
          ],
          "layer": [
            {
              "mark": {"type": "tick", "orient": "horizontal", "size": 128, "thickness": 26, "opacity": 1, "color": "#ff8646"},
              "encoding": {"x": {"datum": {"year": 2028, "month": 2, "date": 13}, "type": "temporal",
                "scale": {"domain": [{"year": 2016, "month": 9, "date": 8}, {"year": 2027, "month": 1, "date": 1}]}}}
            },
            {
              "mark": {"type": "text", "color": "white", "fontWeight": "bold", "fontSize": 11, "lineHeight": 12, "dy": -6, "baseline": "middle", "align": "center"},
              "encoding": {"x": {"datum": {"year": 2028, "month": 2, "date": 13}, "type": "temporal",
                "scale": {"domain": [{"year": 2016, "month": 9, "date": 8}, {"year": 2027, "month": 1, "date": 1}]}},
                "text": {"value": ["Shr Yld (LTM)", "2.28%"]}}
            }
          ]
        }
      ]
    }
  ],
  "spacing": 0,
  "bounds": "flush",
  "resolve": {
    "scale": {"x": "independent", "y": "independent", "color": "independent"},
    "axis": {"x": "independent", "y": "independent"},
    "legend": {"color": "independent"}
  }
}
